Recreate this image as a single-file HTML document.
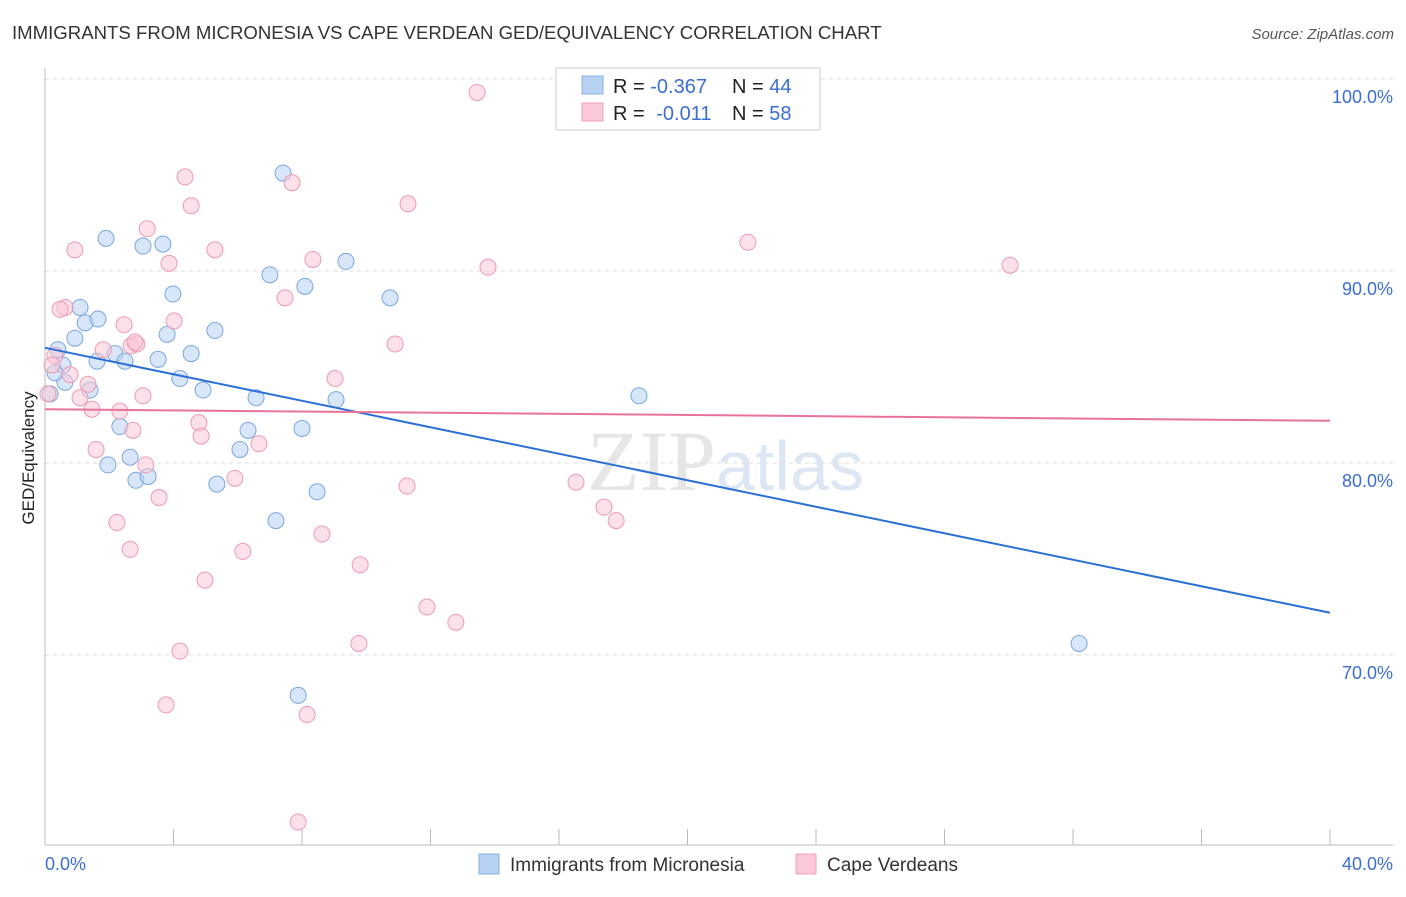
<!DOCTYPE html>
<html><head><meta charset="utf-8"><style>
body{margin:0;width:1406px;height:892px;background:#fff;font-family:"Liberation Sans",sans-serif;overflow:hidden}
</style></head><body>
<svg id="c" width="1406" height="892" xmlns="http://www.w3.org/2000/svg">
<text x="12" y="39" font-size="18.6" fill="#333">IMMIGRANTS FROM MICRONESIA VS CAPE VERDEAN GED/EQUIVALENCY CORRELATION CHART</text>
<text x="1394" y="39" font-size="15" fill="#555" font-style="italic" text-anchor="end">Source: ZipAtlas.com</text>
<text x="716" y="490" font-size="86" font-family="Liberation Serif,serif" fill="#e6e6e6" text-anchor="end">ZIP</text>
<text x="716" y="490" font-size="70" fill="#dde7f4">atlas</text>
<text transform="translate(34,458) rotate(-90)" font-size="17" fill="#222" text-anchor="middle">GED/Equivalency</text>
<g id="grid"></g><g id="marks"></g>
<g>
<rect x="556" y="68" width="264" height="62" fill="#fff" stroke="#ccc"/>
<rect x="582" y="76" width="21" height="18" fill="#b8d2f4" stroke="#8ab0e6"/>
<rect x="582" y="103" width="21" height="18" fill="#fac8d6" stroke="#f0a0b8"/>
<text x="613" y="93" font-size="20" fill="#222">R = <tspan fill="#3a6fd0">-0.367</tspan><tspan x="732">N = </tspan><tspan fill="#3a6fd0">44</tspan></text>
<text x="613" y="120" font-size="20" fill="#222">R = <tspan fill="#3a6fd0" dx="6">-0.011</tspan><tspan x="732">N = </tspan><tspan fill="#3a6fd0">58</tspan></text>
</g>
<g>
<rect x="479" y="854" width="20" height="20" fill="#b8d2f4" stroke="#8ab0e6"/>
<text x="510" y="871" font-size="19" fill="#333">Immigrants from Micronesia</text>
<rect x="796" y="854" width="20" height="20" fill="#fac8d6" stroke="#f0a0b8"/>
<text x="827" y="871" font-size="19" fill="#333">Cape Verdeans</text>
</g>
</svg>
<script>
const blueX=[0.16,0.40,0.56,0.93,1.09,1.25,1.65,1.40,0.62,1.62,1.90,2.18,2.49,2.33,1.96,2.65,2.83,3.21,3.05,3.67,3.98,3.80,3.52,4.20,4.55,4.92,5.29,5.35,6.07,6.32,6.57,7.00,7.19,7.41,8.09,8.00,8.47,7.88,9.06,9.37,10.74,18.49,32.19,0.31];
const blueY=[83.6,85.9,85.1,86.5,88.1,87.3,87.5,83.8,84.2,85.3,91.7,85.7,85.3,81.9,79.9,80.3,79.1,79.3,91.3,91.4,88.8,86.7,85.4,84.4,85.7,83.8,86.9,78.9,80.7,81.7,83.4,89.8,77.0,95.1,89.2,81.8,78.5,67.9,83.3,90.5,88.6,83.5,70.6,84.7];
const pinkX=[0.31,0.62,0.47,0.93,0.78,1.09,1.34,1.46,1.59,2.24,2.46,2.65,2.33,2.74,2.68,2.86,3.05,3.18,3.14,3.55,3.77,3.86,4.02,4.20,4.36,4.55,4.79,4.86,4.98,5.29,5.91,6.16,6.66,7.47,7.69,7.88,8.16,8.34,8.62,9.03,9.81,9.77,10.90,11.27,11.30,11.89,12.79,13.45,13.79,16.53,17.40,17.78,21.88,30.04,0.09,0.22,1.81,2.80];
const pinkY=[85.6,88.1,88.0,91.1,84.6,83.4,84.1,82.8,80.7,76.9,87.2,75.5,82.7,81.7,86.1,86.2,83.5,92.2,79.9,78.2,67.4,90.4,87.4,70.2,94.9,93.4,82.1,81.4,73.9,91.1,79.2,75.4,81.0,88.6,94.6,61.3,66.9,90.6,76.3,84.4,74.7,70.6,86.2,78.8,93.5,72.5,71.7,99.3,90.2,79.0,77.7,77.0,91.5,90.3,83.6,85.1,85.9,86.3];
const blueTrend=[86.0,72.2];
const pinkTrend=[82.8,82.2];
const yTicks=[100,90,80,70];
const xTickVals=[0,4,8,12,16,20,24,28,32,36,40];
const NS='http://www.w3.org/2000/svg';
const sx=v=>45+v/40*1285, sy=v=>79+(100-v)*19.2;
function mk(t,a,p){const e=document.createElementNS(NS,t);for(const k in a)e.setAttribute(k,a[k]);p.appendChild(e);return e;}
const g=document.getElementById('grid'),m=document.getElementById('marks');
yTicks.forEach(v=>{const l=mk('line',{x1:45,x2:1393,y1:sy(v),y2:sy(v),stroke:'#ddd','stroke-dasharray':'4,4'},g);


const t=mk('text',{x:1393,y:sy(v)+24,'font-size':18,fill:'#3a6fd0','text-anchor':'end'},g);t.textContent=v.toFixed(1)+'%';

});
const ax=mk('line',{x1:45,x2:45,y1:68,y2:845,stroke:'#bbb'},g);


const bx=mk('line',{x1:45,x2:1393,y1:845,y2:845,stroke:'#bbb'},g);


xTickVals.forEach(v=>{const l=mk('line',{x1:sx(v),x2:sx(v),y1:829,y2:845,stroke:'#bbb'},g);

});
[[0,'0.0%','start',45],[40,'40.0%','end',1393]].forEach(a=>{const t=mk('text',{x:a[3],y:870,'font-size':18,fill:'#3a6fd0','text-anchor':a[2]},g);t.textContent=a[1];

});
function pts(X,Y,f,s,n){X.forEach((x,i)=>{const c=mk('circle',{cx:sx(x),cy:sy(Y[i]),r:8,fill:f,'fill-opacity':0.55,stroke:s,'stroke-width':1},m);

});}
pts(blueX,blueY,'#b8d2f4','#7aa6e0','point-micronesia');
pts(pinkX,pinkY,'#fac8d6','#ec9ab4','point-capeverde');
const bl=mk('line',{x1:sx(0),x2:sx(40),y1:sy(blueTrend[0]),y2:sy(blueTrend[1]),stroke:'#2a6fd6','stroke-width':2},m);


const pl=mk('line',{x1:sx(0),x2:sx(40),y1:sy(pinkTrend[0]),y2:sy(pinkTrend[1]),stroke:'#e8729a','stroke-width':2},m);


</script>
</body></html>
